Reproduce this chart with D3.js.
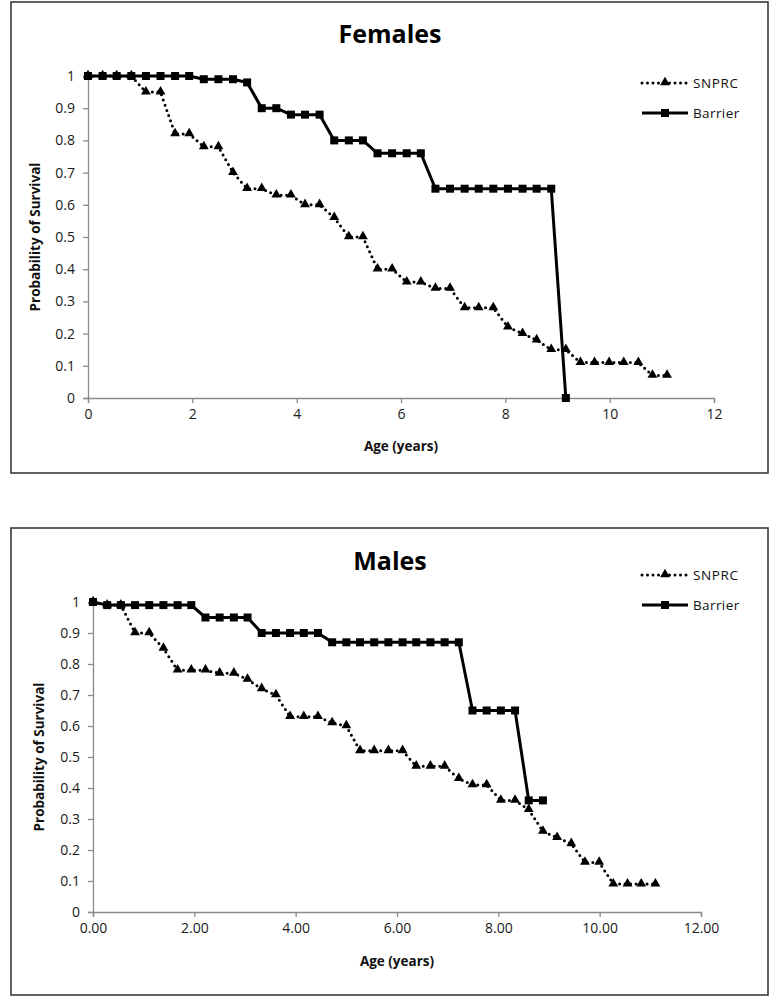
<!DOCTYPE html>
<html>
<head>
<meta charset="utf-8">
<script src="https://cdn.jsdelivr.net/npm/d3@7/dist/d3.min.js"></script>
<style>
  html, body { margin: 0; padding: 0; background: #fff; }
  svg { display: block; }
  text { font-family: "Open Sans", Lato, "Liberation Sans", sans-serif; }
</style>
</head>
<body>
<svg id="chart" width="771" height="1003"></svg>
<script>
// ---- data ----
const ages = [0, 0.28, 0.55, 0.83, 1.11, 1.39, 1.67, 1.94, 2.22, 2.5, 2.78, 3.05, 3.33, 3.61, 3.89, 4.16, 4.44, 4.72, 5.0, 5.27, 5.55, 5.83, 6.11, 6.38, 6.66, 6.94, 7.22, 7.49, 7.77, 8.05, 8.33, 8.6, 8.88, 9.16, 9.44, 9.71, 9.99, 10.27, 10.55, 10.82, 11.1];

const femaleSNPRC = [1, 1, 1, 1, 0.95, 0.95, 0.82, 0.82, 0.78, 0.78, 0.70, 0.65, 0.65, 0.63, 0.63, 0.60, 0.60, 0.56, 0.50, 0.50, 0.40, 0.40, 0.36, 0.36, 0.34, 0.34, 0.28, 0.28, 0.28, 0.22, 0.20, 0.18, 0.15, 0.15, 0.11, 0.11, 0.11, 0.11, 0.11, 0.07, 0.07];
const femaleBarrier = [1, 1, 1, 1, 1, 1, 1, 1, 0.99, 0.99, 0.99, 0.98, 0.90, 0.90, 0.88, 0.88, 0.88, 0.80, 0.80, 0.80, 0.76, 0.76, 0.76, 0.76, 0.65, 0.65, 0.65, 0.65, 0.65, 0.65, 0.65, 0.65, 0.65, 0];

const maleSNPRC = [1, 0.99, 0.99, 0.90, 0.90, 0.85, 0.78, 0.78, 0.78, 0.77, 0.77, 0.75, 0.72, 0.70, 0.63, 0.63, 0.63, 0.61, 0.60, 0.52, 0.52, 0.52, 0.52, 0.47, 0.47, 0.47, 0.43, 0.41, 0.41, 0.36, 0.36, 0.33, 0.26, 0.24, 0.22, 0.16, 0.16, 0.09, 0.09, 0.09, 0.09];
const maleBarrier = [1, 0.99, 0.99, 0.99, 0.99, 0.99, 0.99, 0.99, 0.95, 0.95, 0.95, 0.95, 0.90, 0.90, 0.90, 0.90, 0.90, 0.87, 0.87, 0.87, 0.87, 0.87, 0.87, 0.87, 0.87, 0.87, 0.87, 0.65, 0.65, 0.65, 0.65, 0.36, 0.36];

const seriesNames = ["SNPRC", "Barrier"];
const panelTitles = ["Females", "Males"];
const xTicks = [0, 2, 4, 6, 8, 10, 12];
const yTicks = [0, 0.1, 0.2, 0.3, 0.4, 0.5, 0.6, 0.7, 0.8, 0.9, 1];
const xTitle = "Age (years)";
const yTitle = "Probability of Survival";

// ---- drawing ----
const svg = d3.select("#chart");

const panels = [
  { title: panelTitles[0], snprc: femaleSNPRC, barrier: femaleBarrier,
    box: [11, 2, 768, 473], x0: 88, x1: 714, yTop: 76, yBot: 398,
    titleY: 43, legendY: [83, 113], xFmt: d3.format("d"), yTitleX: 35,
    xTitleY: 451 },
  { title: panelTitles[1], snprc: maleSNPRC, barrier: maleBarrier,
    box: [11, 528, 768, 995], x0: 93, x1: 701, yTop: 602, yBot: 912,
    titleY: 570, legendY: [575, 605], xFmt: d3.format(".2f"), yTitleX: 39,
    xTitleY: 966 }
];

const triangle = d3.symbol().type(d3.symbolTriangle).size(42);

panels.forEach(p => {
  const g = svg.append("g");
  g.append("rect")
    .attr("x", p.box[0]).attr("y", p.box[1])
    .attr("width", p.box[2] - p.box[0]).attr("height", p.box[3] - p.box[1])
    .attr("fill", "#fff").attr("stroke", "#3a3a3a").attr("stroke-width", 1.6);

  const x = d3.scaleLinear().domain([0, 12]).range([p.x0, p.x1]);
  const y = d3.scaleLinear().domain([0, 1]).range([p.yBot, p.yTop]);

  // axes
  const xAxis = d3.axisBottom(x).tickValues(xTicks).tickFormat(p.xFmt).tickSizeOuter(0).tickSize(5).tickPadding(6);
  const yAxis = d3.axisLeft(y).tickValues(yTicks).tickFormat(d => d === 0 ? "0" : d === 1 ? "1" : d3.format(".1f")(d)).tickSizeOuter(0).tickSize(5).tickPadding(8);

  const gx = g.append("g").attr("transform", `translate(0,${p.yBot})`).call(xAxis);
  const gy = g.append("g").attr("transform", `translate(${p.x0},0)`).call(yAxis);
  [gx, gy].forEach(a => {
    a.select(".domain").attr("stroke", "#8a8a8a").attr("stroke-width", 1.3);
    a.selectAll(".tick line").attr("stroke", "#8a8a8a").attr("stroke-width", 1.3);
    a.selectAll(".tick text").attr("fill", "#1a1a1a").style("font-size", "14px")
      .style("font-family", "'Open Sans', Lato, sans-serif");
  });

  // titles
  g.append("text").attr("x", 390).attr("y", p.titleY).attr("text-anchor", "middle")
    .style("font-size", "25px").style("font-weight", "bold").attr("fill", "#000")
    .text(p.title);
  g.append("text").attr("x", (p.x0 + p.x1) / 2).attr("y", p.xTitleY).attr("text-anchor", "middle")
    .style("font-size", "13.5px").style("font-weight", "bold").attr("fill", "#111")
    .text(xTitle);
  g.append("text")
    .attr("transform", `translate(${p.yTitleX},${(p.yTop + p.yBot) / 2}) rotate(-90)`)
    .attr("text-anchor", "middle").attr("dy", "0.35em")
    .style("font-size", "13.5px").style("font-weight", "bold").attr("fill", "#111")
    .text(yTitle);

  const line = d3.line().x((d, i) => x(ages[i])).y(d => y(d));

  // SNPRC dotted series
  g.append("path").datum(p.snprc).attr("d", line)
    .attr("fill", "none").attr("stroke", "#000").attr("stroke-width", 3)
    .attr("stroke-dasharray", "0 5.5").attr("stroke-linecap", "round");
  g.selectAll(".tri").data(p.snprc).enter().append("path")
    .attr("d", triangle)
    .attr("transform", (d, i) => `translate(${x(ages[i])},${y(d) - 0.5})`)
    .attr("fill", "#000");

  // Barrier solid series
  g.append("path").datum(p.barrier).attr("d", line)
    .attr("fill", "none").attr("stroke", "#000").attr("stroke-width", 3)
    .attr("stroke-linejoin", "round");
  g.selectAll(".sq").data(p.barrier).enter().append("rect")
    .attr("x", (d, i) => x(ages[i]) - 4).attr("y", d => y(d) - 4)
    .attr("width", 8).attr("height", 8).attr("fill", "#000");

  // legend
  const lx0 = 642, lx1 = 688, lxt = 693;
  const ly0 = p.legendY[0], ly1 = p.legendY[1];
  g.append("line").attr("x1", lx0).attr("x2", lx1).attr("y1", ly0).attr("y2", ly0)
    .attr("stroke", "#000").attr("stroke-width", 3)
    .attr("stroke-dasharray", "0 5.5").attr("stroke-linecap", "round");
  g.append("path").attr("d", triangle).attr("transform", `translate(${(lx0 + lx1) / 2},${ly0 - 0.5})`).attr("fill", "#000");
  g.append("text").attr("x", lxt).attr("y", ly0).attr("dy", "0.35em")
    .style("font-size", "13.5px").style("letter-spacing", "0.6px").attr("fill", "#111").text(seriesNames[0]);

  g.append("line").attr("x1", lx0).attr("x2", lx1).attr("y1", ly1).attr("y2", ly1)
    .attr("stroke", "#000").attr("stroke-width", 3);
  g.append("rect").attr("x", (lx0 + lx1) / 2 - 4).attr("y", ly1 - 4).attr("width", 8).attr("height", 8).attr("fill", "#000");
  g.append("text").attr("x", lxt).attr("y", ly1).attr("dy", "0.35em")
    .style("font-size", "13.5px").style("letter-spacing", "0.4px").attr("fill", "#111").text(seriesNames[1]);
});
</script>
</body>
</html>
